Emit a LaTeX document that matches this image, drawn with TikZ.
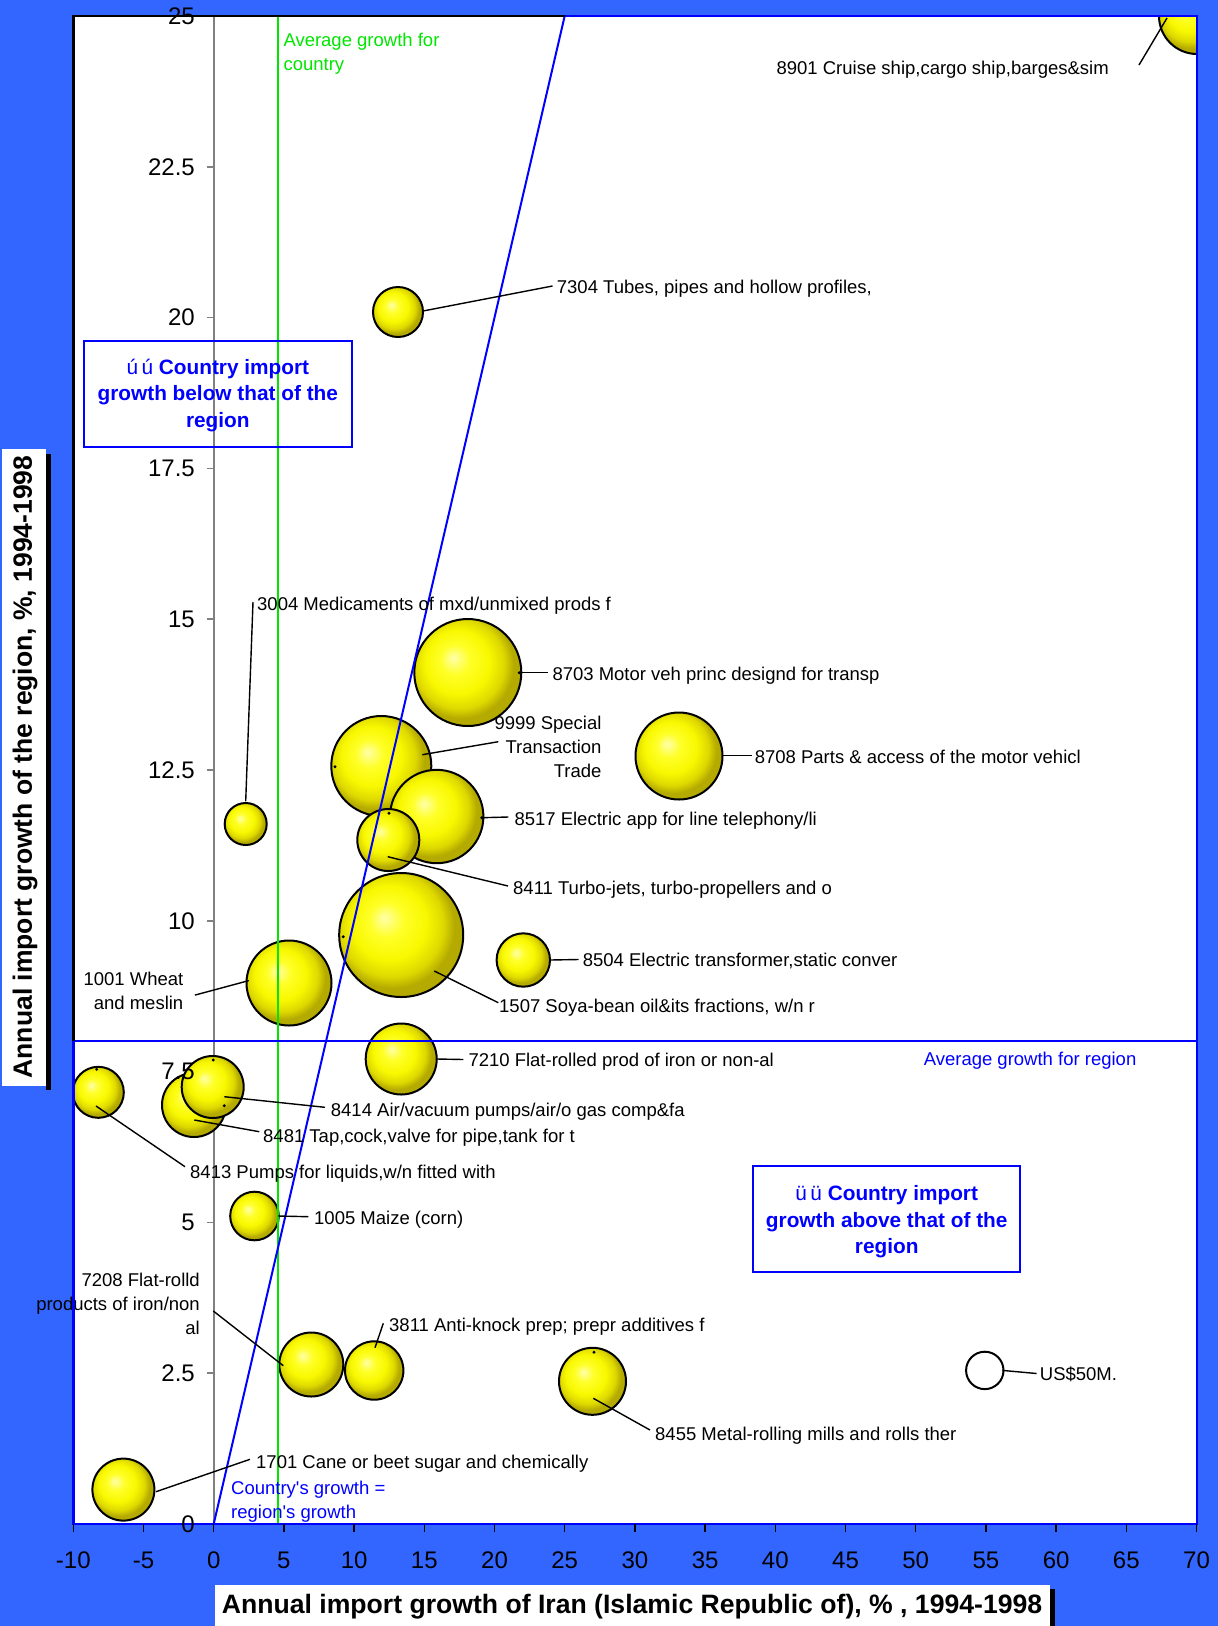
\documentclass[tikz,border=0pt]{standalone}
\usepackage{fontspec}
\setmainfont{Liberation Sans}
\definecolor{bg}{RGB}{51,102,255}
\definecolor{pblue}{RGB}{0,0,255}
\definecolor{pgreen}{RGB}{0,230,0}
\definecolor{axgray}{RGB}{128,128,128}
\definecolor{bubA}{RGB}{255,255,170}
\definecolor{bubB}{RGB}{255,255,40}
\definecolor{bubC}{RGB}{248,248,0}
\definecolor{bubD}{RGB}{222,216,0}
\definecolor{bubE}{RGB}{180,170,0}
\pgfdeclareradialshading{bub}{\pgfpoint{-7bp}{7bp}}{color(0bp)=(bubA); color(7bp)=(bubB); color(15bp)=(bubC); color(21bp)=(bubD); color(25bp)=(bubE); color(50bp)=(bubE)}
\begin{document}
\begin{tikzpicture}[x=1pt,y=-1pt,
  lbl/.style={font=\fontsize{18.5}{24}\selectfont, inner sep=0pt, anchor=base west},
  lblr/.style={font=\fontsize{18.5}{24}\selectfont, inner sep=0pt, anchor=north east, align=right},
  lbll/.style={font=\fontsize{18.5}{24}\selectfont, inner sep=0pt, anchor=north west, align=left},
  bubble/.style={circle, draw=black, line width=2pt, shade, shading=bub, inner sep=0pt, outer sep=0pt},
  leader/.style={draw=black, line width=1.4pt},
  dotm/.style={circle, fill=black, inner sep=0pt, minimum size=3.2pt},
  ticklbl/.style={font=\fontsize{24}{28}\selectfont, inner sep=0pt},
  boxtxt/.style={font=\fontsize{20.8}{26.7}\selectfont\bfseries, text=pblue, align=center, inner sep=0pt},
  titlebox/.style={fill=white, draw=none},
  titletxt/.style={font=\fontsize{26.5}{30}\selectfont\bfseries, inner sep=0pt}
]
\useasboundingbox (0,0) rectangle (1218,1626);
\fill[bg] (0,0) rectangle (1218,1626);
% plot area
\fill[white] (73.5,16) rectangle (1197,1524);
% y axis (gray) and ticks
\draw[axgray, line width=1.8pt] (213.7,16) -- (213.7,1524);
\foreach \v in {0,2.5,5,7.5,10,12.5,15,17.5,20,22.5,25}
  \draw[axgray, line width=1.5pt] (206.7,{1524-60.32*\v}) -- (213.7,{1524-60.32*\v});
% bubbles
\begin{scope}
\clip (73.5,16) rectangle (1197,1524);
\node[bubble, minimum size=124pt] (b1507) at (401.2,935) {};
\node[bubble, minimum size=107pt] (b8703) at (467.8,672.5) {};
\node[bubble, minimum size=100pt] (b9999) at (381.3,766) {};
\node[bubble, minimum size=93.4pt] (b8517) at (436.7,816.5) {};
\node[bubble, minimum size=87pt] (b8708) at (679,756) {};
\node[bubble, minimum size=85pt] (b1001) at (289,983) {};
\node[bubble, minimum size=76pt] (b8901) at (1197,16) {};
\node[bubble, minimum size=71pt] (b7210) at (401.2,1059) {};
\node[bubble, minimum size=67pt] (b8455) at (592.5,1381.3) {};
\node[bubble, minimum size=64pt] (b8481) at (194,1105) {};
\node[bubble, minimum size=64pt] (b7208) at (311.3,1364.5) {};
\node[bubble, minimum size=62pt] (b8414) at (212.7,1087) {};
\node[bubble, minimum size=62pt] (b8411) at (388.3,840) {};
\node[bubble, minimum size=62pt] (b1701) at (123.4,1489.6) {};
\node[bubble, minimum size=58.4pt] (b3811) at (374.2,1370.5) {};
\node[bubble, minimum size=53.4pt] (b8504) at (523.3,960) {};
\node[bubble, minimum size=51pt] (b8413) at (98.3,1092.3) {};
\node[bubble, minimum size=50pt] (b7304) at (398,312) {};
\node[bubble, minimum size=48.6pt] (b1005) at (254.5,1216) {};
\node[bubble, minimum size=42pt] (b3004) at (245.7,824) {};
\node[circle, draw=black, fill=white, line width=2pt, inner sep=0pt, minimum size=37.4pt] (bUS) at (984.8,1370.4) {};
\end{scope}
% reference lines
\draw[pgreen, line width=2pt] (277.7,16) -- (277.7,1524);
\draw[pblue, line width=2pt] (73.5,1040.8) -- (1197,1040.8);
\coordinate (orig) at (213.7,1524);
\coordinate (diagtop) at (564.7,16);
\draw[pblue, line width=2pt] (orig) -- (diagtop);
% small markers
\foreach \p in {(96.7,1069.3),(213.3,1060),(224.3,1105.7),(335,766.7),(389,813.3),(343.3,936.7),(594,1352.3),(519.3,672.7),(481.7,817.7)}
  \node[dotm] at \p {};
% leaders
\coordinate (s8901) at (1139,65);   \coordinate (e8901) at (1167,18);
\coordinate (s7304) at (423,311);   \coordinate (e7304) at (552.5,286);
\coordinate (s3004) at (245.7,801.3); \coordinate (e3004) at (253,602);
\coordinate (s8703) at (519.3,672.7); \coordinate (e8703) at (547.7,672.7);
\coordinate (s8708) at (722.5,755.7); \coordinate (e8708) at (751.5,755.7);
\coordinate (s9999) at (422.3,754.7); \coordinate (e9999) at (498.3,741.7);
\coordinate (s8517) at (481.7,817.7); \coordinate (e8517) at (508.3,817);
\coordinate (s8411) at (387.7,856.7); \coordinate (e8411) at (508,886);
\coordinate (s1507) at (434.3,971);  \coordinate (e1507) at (498.3,1002.7);
\coordinate (s8504) at (550,960);    \coordinate (e8504) at (578.5,959.5);
\coordinate (s1001) at (248.8,980.6); \coordinate (e1001) at (194.9,995.1);
\coordinate (s7210) at (436.7,1059); \coordinate (e7210) at (463.3,1059.5);
\coordinate (s8414) at (224.3,1096.7); \coordinate (e8414) at (325,1107.3);
\coordinate (s8481) at (194.3,1120); \coordinate (e8481) at (259.3,1131.7);
\coordinate (s8413) at (96,1106);    \coordinate (e8413) at (185,1166.7);
\coordinate (s1005) at (278.3,1216); \coordinate (e1005) at (308.3,1216.7);
\coordinate (s7208) at (283.3,1365.7); \coordinate (e7208) at (213.3,1311);
\coordinate (s3811) at (375,1347.7); \coordinate (e3811) at (383.3,1323.3);
\coordinate (s8455) at (593.3,1398.3); \coordinate (e8455) at (650,1430);
\coordinate (s1701) at (156,1491.7); \coordinate (e1701) at (250,1459.3);
\coordinate (sUS) at (1002.4,1370.4); \coordinate (eUS) at (1036.6,1373.5);
\foreach \n in {8901,7304,3004,8703,8708,9999,8517,8411,1507,8504,1001,7210,8414,8481,8413,1005,7208,3811,8455,1701,US}
  \draw[leader] (s\n) -- (e\n);
% labels
\node[lbl] (l8901) at (776.4,74) {8901 Cruise ship,cargo ship,barges\&sim};
\node[lbl] (l7304) at (556.7,293.6) {7304 Tubes, pipes and hollow profiles,};
\node[lbl] (l3004) at (257,610.6) {3004 Medicaments of mxd/unmixed prods f};
\node[lbl] (l8703) at (552.3,680.9) {8703 Motor veh princ designd for transp};
\node[lbl] (l8708) at (754.6,763.3) {8708 Parts \& access of the motor vehicl};
\node[lblr] (l9999) at (601.7,716) {9999 Special\\Transaction\\Trade};
\node[lbl] (l8517) at (514.3,825.9) {8517 Electric app for line telephony/li};
\node[lbl] (l8411) at (513,894.6) {8411 Turbo-jets, turbo-propellers and o};
\node[lbl] (l8504) at (582.6,966.6) {8504 Electric transformer,static conver};
\node[lbl] (l1507) at (499,1012.2) {1507 Soya-bean oil\&its fractions, w/n r};
\node[lblr] (l1001) at (183.5,972) {1001 Wheat\\and meslin};
\node[lbl] (l7210) at (468.3,1066.6) {7210 Flat-rolled prod of iron or non-al};
\node[lbl] (l8414) at (330.7,1116.6) {8414 Air/vacuum pumps/air/o gas comp\&fa};
\node[lbl] (l8481) at (263,1142.6) {8481 Tap,cock,valve for pipe,tank for t};
\node[lbl] (l8413) at (190,1178.3) {8413 Pumps for liquids,w/n fitted with};
\node[lbl] (l1005) at (314,1224.3) {1005 Maize (corn)};
\node[lblr] (l7208) at (200,1273.3) {7208 Flat-rolld\\products of iron/non\\al};
\node[lbl] (l3811) at (389,1331.2) {3811 Anti-knock prep; prepr additives f};
\node[lbl] (l8455) at (655,1440.2) {8455 Metal-rolling mills and rolls ther};
\node[lbl] (l1701) at (256,1468.3) {1701 Cane or beet sugar and chemically};
\node[lbl] (lUS) at (1039.7,1380.1) {US\$50M.};
\node[lbl, text=pblue] (lavgreg) at (923.6,1065) {Average growth for region};
\node[lbll, text=pgreen] (lavgcty) at (283.3,32.4) {Average growth for\\country};
\node[lbll, text=pblue] (lequal) at (231,1481) {Country\textquotesingle s growth =\\region\textquotesingle s growth};
% quadrant boxes
\draw[pblue, line width=2pt] (84,340.7) rectangle (351.7,446.7);
\node[boxtxt] (qbelow) at (217.8,395.3) {{\mdseries ú\,ú} Country import\\growth below that of the\\region};
\draw[pblue, line width=2pt] (753.3,1165.7) rectangle (1020,1271.7);
\node[boxtxt] (qabove) at (886.7,1221.8) {{\mdseries ü\,ü} Country import\\growth above that of the\\region};
% plot border
\draw[black, line width=2.5pt] (73.5,16) rectangle (1197,1524);
\draw[pblue, line width=2.5pt] (73.5,1040.8) -- (73.5,1524) -- (1197,1524) -- (1197,16) -- (564.7,16);
% y tick labels
\foreach \v in {0,2.5,5,7.5,10,12.5,15,17.5,20,22.5,25}
  \node[ticklbl, anchor=east] at (195,{1524-60.32*\v}) {\v};
% x ticks and labels
\foreach \v in {-10,-5,...,70} {
  \draw[black, line width=1.5pt] ({213.7+14.04*\v},1524) -- ({213.7+14.04*\v},1532);
  \node[ticklbl] at ({213.7+14.04*\v},1560) {\v};
}
% axis titles
\fill[black] (1050,1589) rectangle (1055,1626);
\fill[titlebox] (214.6,1585) rectangle (1050,1626);
\node[titletxt, font=\fontsize{26.6}{30}\selectfont\bfseries] (xtitle) at (632,1607) {Annual import growth of Iran (Islamic Republic of), \% , 1994-1998};
\fill[black] (46,454) rectangle (51,1090);
\fill[titlebox] (2,449) rectangle (46,1086);
\node[titletxt] (ytitle) [rotate=90] at (25,767) {Annual import growth of the region, \%, 1994-1998};
\end{tikzpicture}
\end{document}
